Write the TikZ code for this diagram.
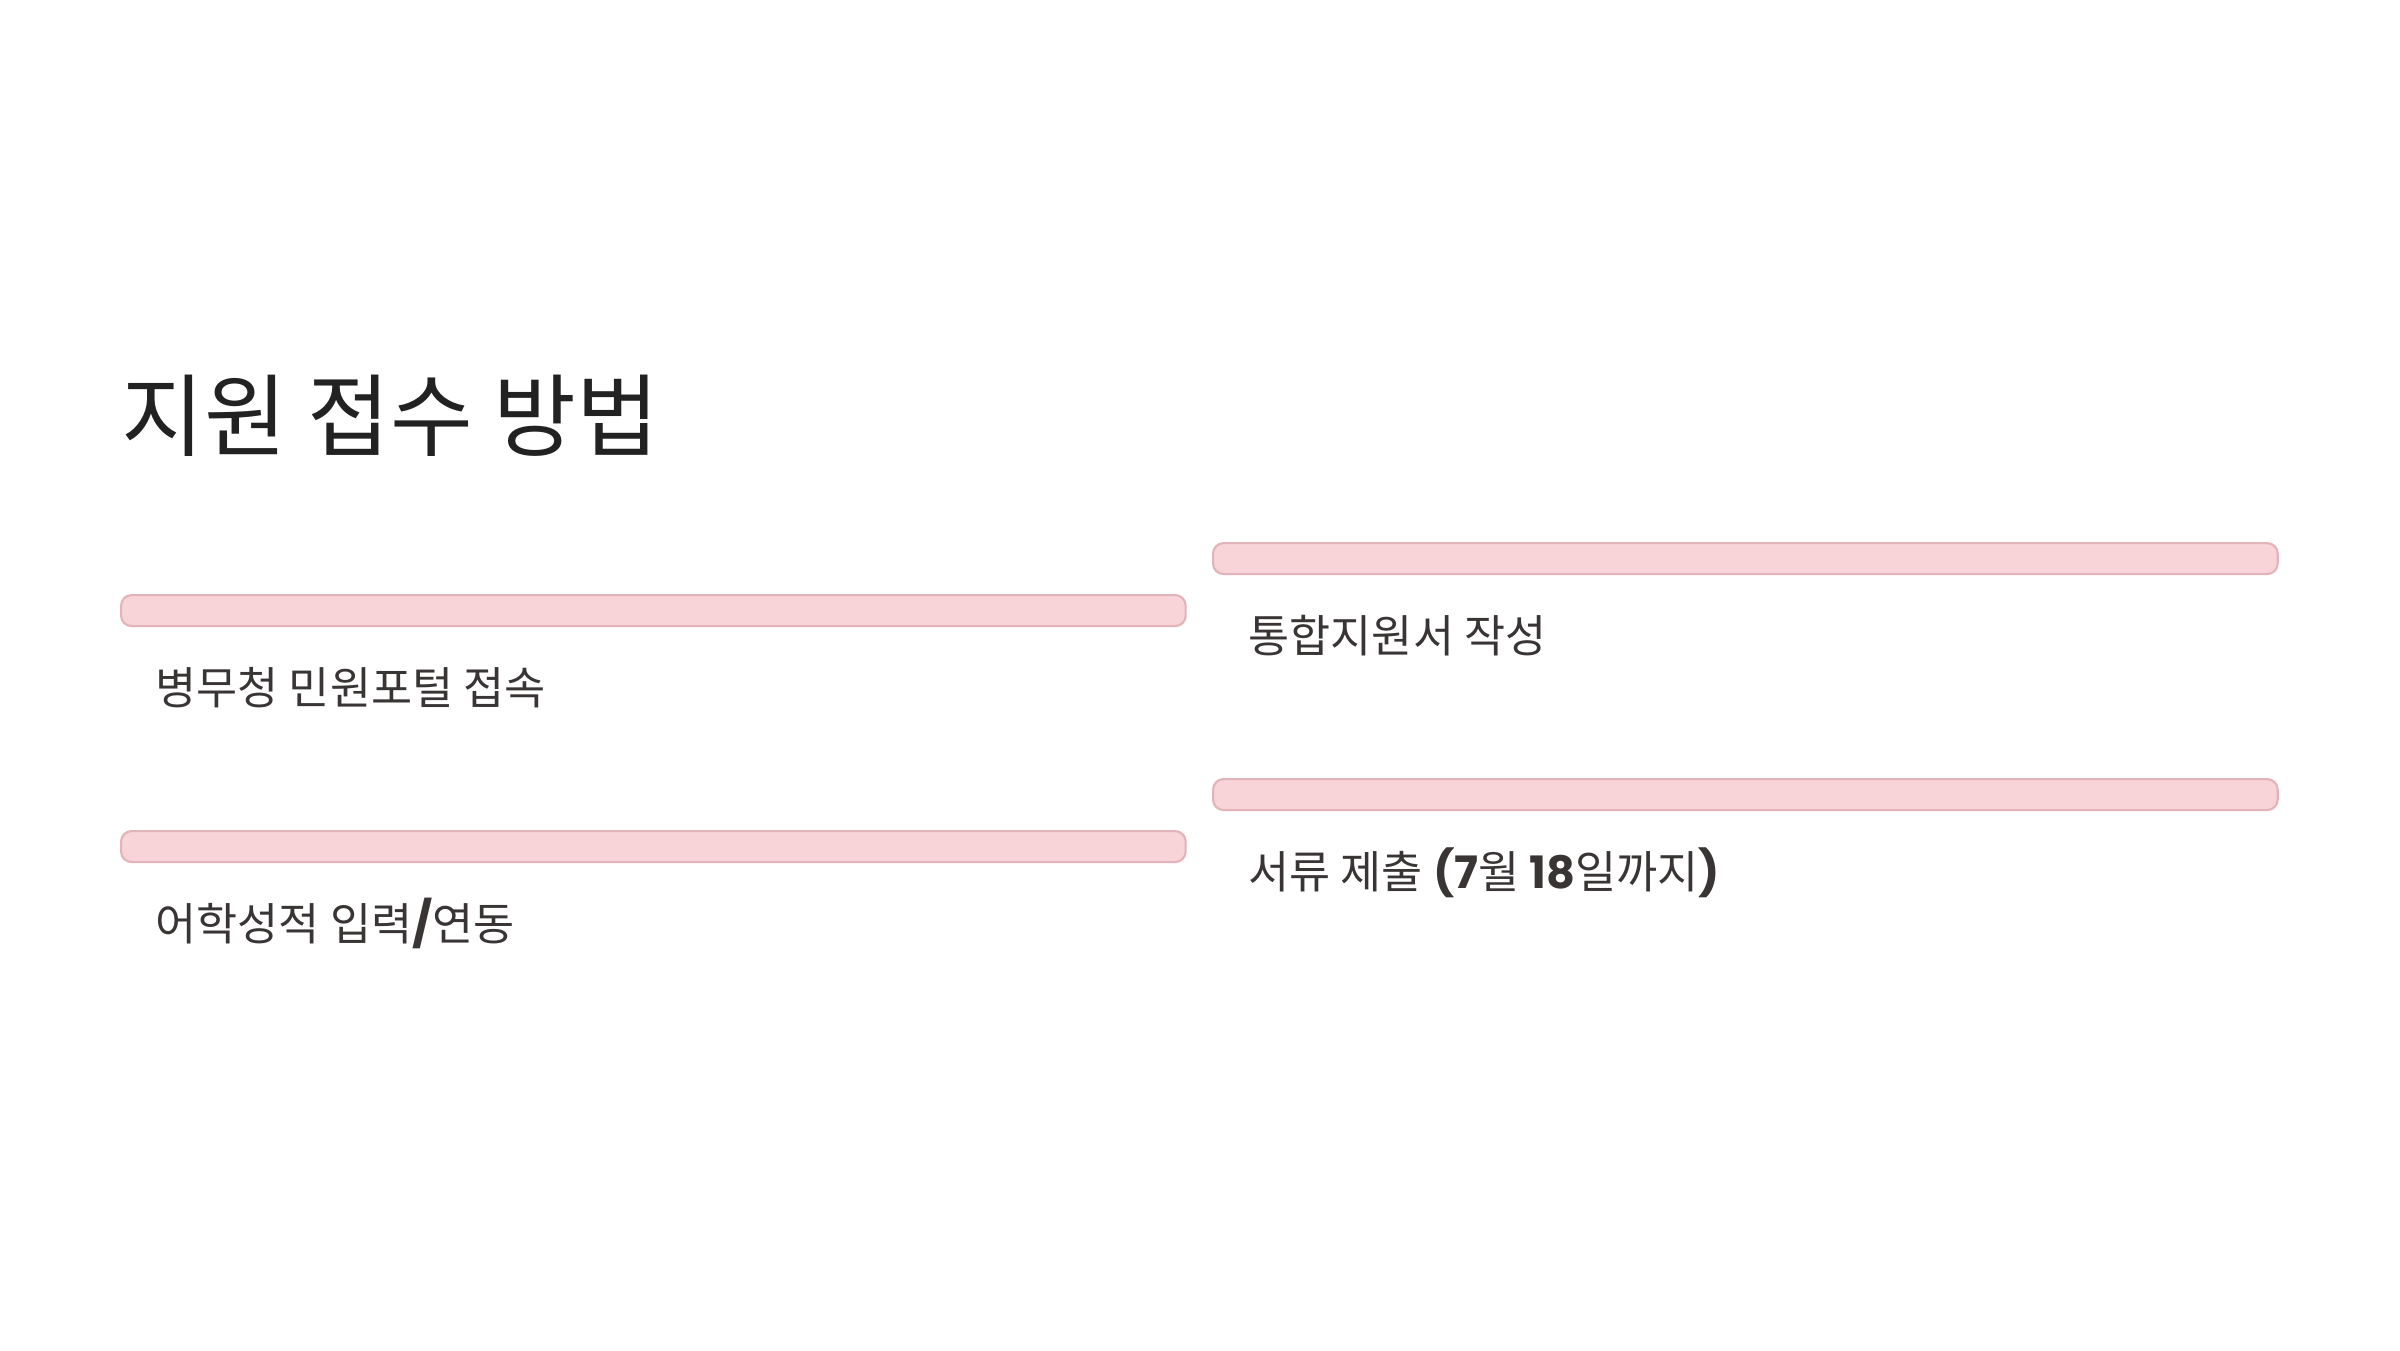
\documentclass[tikz,border=0pt]{standalone}
\usepackage{fontspec}
\setmainfont{Noto Sans CJK KR}
\newfontfamily\latfont{Poppins}
\definecolor{barfill}{HTML}{F8D3D7}
\definecolor{barline}{HTML}{E2B3B8}
\definecolor{titlecol}{HTML}{222222}
\definecolor{textcol}{HTML}{3A3535}
\newcommand{\lat}[1]{{\latfont\bfseries #1}}
\begin{document}
\begin{tikzpicture}
    [x=0.01cm,y=-0.01cm,
     bar/.style={draw=barline,fill=barfill,line width=0.6pt,rounded corners=3pt,
       minimum width=10.64cm,minimum height=0.31cm,inner sep=0pt,anchor=north west},
     item/.style={anchor=base west,inner sep=0pt,text=textcol,font=\fontsize{12.7pt}{15pt}\selectfont},
     title/.style={anchor=base west,inner sep=0pt,text=titlecol,font=\fontsize{25.6pt}{30pt}\selectfont}]
    \useasboundingbox (0,0) rectangle (2400,1350);
    \node[title](head) at (121,449){지원 접수 방법};
    % left column
    \node[bar](barA) at (120,594){};
    \node[item](stepA) at (155,704){병무청 민원포털 접속};
    \node[bar](barB) at (120,830){};
    \node[item](stepB) at (155,940){어학성적 입력\lat{/}연동};
    % right column
    \node[bar](barC) at (1212,542){};
    \node[item](stepC) at (1248,652){통합지원서 작성};
    \node[bar](barD) at (1212,778){};
    \node[item](stepD) at (1248,888){서류 제출 \lat{(7}월 \lat{18}일까지\lat{)}};
\end{tikzpicture}
\end{document}
